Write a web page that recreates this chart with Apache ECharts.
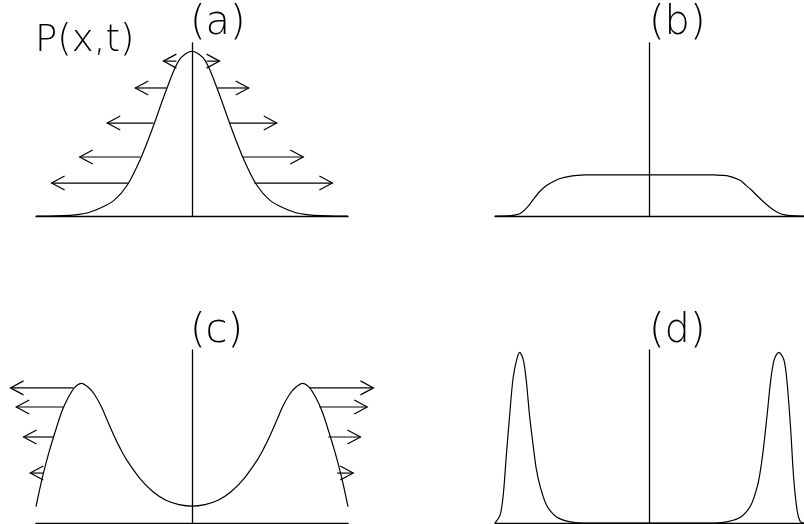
<!DOCTYPE html>
<html>
	<head>
		<meta charset="utf-8">
		<title>P(x,t)</title>
		<style>
			html, body { margin: 0; padding: 0; background: #fff; }
			#main { width: 804px; height: 524px; }
		</style>
	</head>
	<body>
		<div id="main"></div>
		<script src="https://cdn.jsdelivr.net/npm/echarts@6/dist/echarts.min.js"></script>
		<script>
			// 曲线数据 [x, P]
			var curveA = [
				[-3, 0], [-2.75, 0], [-2.5, 0.002], [-2.25, 0.007], [-2, 0.02], [-1.75, 0.05],
				[-1.5, 0.095], [-1.25, 0.185], [-1, 0.34], [-0.75, 0.54], [-0.5, 0.76], [-0.25, 0.945],
				[0, 1.0],
				[0.25, 0.945], [0.5, 0.76], [0.75, 0.54], [1, 0.34], [1.25, 0.185], [1.5, 0.095],
				[1.75, 0.05], [2, 0.02], [2.25, 0.007], [2.5, 0.002], [2.75, 0], [3, 0]
			];
			var curveB = [
				[-3, 0], [-2.75, 0.001], [-2.625, 0.005], [-2.5, 0.017], [-2.375, 0.052], [-2.25, 0.103], [-2.125, 0.15],
				[-2, 0.185], [-1.875, 0.208], [-1.75, 0.226], [-1.5, 0.243], [-1.25, 0.249], [-1, 0.25],
				[0, 0.25],
				[1, 0.25], [1.25, 0.249], [1.5, 0.245], [1.75, 0.218], [1.875, 0.186], [2, 0.152],
				[2.125, 0.112], [2.25, 0.076], [2.375, 0.044], [2.5, 0.02], [2.625, 0.007], [2.75, 0.002], [3, 0]
			];
			var curveC = [
				[-3, 0.1], [-2.875, 0.28], [-2.75, 0.43], [-2.625, 0.56], [-2.5, 0.68], [-2.375, 0.765],
				[-2.25, 0.825], [-2.125, 0.848], [-2, 0.825], [-1.875, 0.78], [-1.75, 0.71], [-1.625, 0.62],
				[-1.5, 0.53], [-1.375, 0.45], [-1.25, 0.38], [-1, 0.27], [-0.75, 0.19], [-0.5, 0.138],
				[-0.25, 0.112], [0, 0.103],
				[0.25, 0.112], [0.5, 0.138], [0.75, 0.19], [1, 0.27], [1.25, 0.38], [1.375, 0.45],
				[1.5, 0.53], [1.625, 0.62], [1.75, 0.71], [1.875, 0.78], [2, 0.825], [2.125, 0.848],
				[2.25, 0.825], [2.375, 0.765], [2.5, 0.68], [2.625, 0.56], [2.75, 0.43], [2.875, 0.28],
				[3, 0.1]
			];
			var curveD = [
				[-3, 0], [-2.9, 0.049], [-2.84, 0.17], [-2.78, 0.41], [-2.71, 0.675], [-2.65, 0.877],
				[-2.58, 0.99], [-2.52, 1.036], [-2.45, 0.99], [-2.39, 0.857], [-2.33, 0.655], [-2.26, 0.473],
				[-2.2, 0.332], [-2.13, 0.23], [-2, 0.109], [-1.81, 0.038], [-1.56, 0.008], [-1.3, 0],
				[0, 0],
				[1.26, 0], [1.52, 0.008], [1.78, 0.038], [1.97, 0.109], [2.1, 0.23], [2.16, 0.332],
				[2.22, 0.473], [2.29, 0.675], [2.35, 0.857], [2.42, 0.99], [2.51, 1.036], [2.61, 0.99],
				[2.67, 0.857], [2.74, 0.575], [2.8, 0.27], [2.87, 0.069], [2.93, 0.008], [3, 0]
			];
			// 箭头 [P, 起点x, 终点x]
			var arrowsA = [
				[0.94, -0.3, -0.55], [0.94, 0.28, 0.53],
				[0.777, -0.49, -1.09], [0.777, 0.49, 1.09],
				[0.564, -0.74, -1.63], [0.564, 0.72, 1.63],
				[0.358, -0.99, -2.16], [0.358, 0.97, 2.14],
				[0.2, -1.22, -2.7], [0.2, 1.2, 2.7]
			];
			var arrowsC = [
				[0.82, -2.28, -3.49], [0.82, 2.26, 3.49],
				[0.704, -2.47, -3.38], [0.704, 2.45, 3.37],
				[0.522, -2.66, -3.24], [0.522, 2.62, 3.24],
				[0.303, -2.86, -3.11], [0.303, 2.79, 3.1]
			];
			var panelLabels = ['(a)', '(b)', '(c)', '(d)'];
			var yLabel = 'P(x,t)';

			var chart = echarts.init(document.getElementById('main'));

			var grids = [
				{ left: 36, top: 43, width: 312, height: 173 },
				{ left: 495, top: 43, width: 312, height: 173 },
				{ left: 36, top: 350, width: 312, height: 173 },
				{ left: 495, top: 350, width: 312, height: 173 }
			];
			var labelPos = [[190, 24], [649, 24], [190, 332], [649, 332]];
			var font = '"DejaVu Sans", sans-serif';

			// 画开口箭头
			function arrowItem(params, api) {
				var y = api.value(0);
				var p0 = api.coord([api.value(1), y]);
				var p1 = api.coord([api.value(2), y]);
				var dir = p1[0] > p0[0] ? 1 : -1;
				var hl = 13, hw = 7;
				var st = { stroke: '#000', lineWidth: 1.2, fill: null };
				return {
					type: 'group',
					children: [{
						type: 'line',
						shape: { x1: p0[0], y1: p0[1], x2: p1[0], y2: p1[1] },
						style: st
					}, {
						type: 'polyline',
						shape: { points: [[p1[0] - dir * hl, p1[1] - hw], [p1[0], p1[1]], [p1[0] - dir * hl, p1[1] + hw]] },
						style: st
					}]
				};
			}

			var axisCommon = {
				type: 'value',
				axisLine: { show: true, onZero: true, lineStyle: { color: '#000', width: 1.3 } },
				axisTick: { show: false },
				axisLabel: { show: false },
				splitLine: { show: false }
			};

			var xAxis = [], yAxis = [];
			grids.forEach(function(g, i) {
				xAxis.push(Object.assign({ gridIndex: i, min: -3, max: 3 }, axisCommon));
				yAxis.push(Object.assign({ gridIndex: i, min: 0, max: 1.05 }, axisCommon));
			});

			var curves = [curveA, curveB, curveC, curveD];
			var series = curves.map(function(c, i) {
				return {
					type: 'line',
					xAxisIndex: i,
					yAxisIndex: i,
					data: c,
					showSymbol: false,
					smooth: 0.3,
					silent: true,
					lineStyle: { color: '#000', width: 1.2 }
				};
			});
			series.push({ type: 'custom', xAxisIndex: 0, yAxisIndex: 0, data: arrowsA, renderItem: arrowItem, silent: true });
			series.push({ type: 'custom', xAxisIndex: 2, yAxisIndex: 2, data: arrowsC, renderItem: arrowItem, silent: true });

			var graphic = panelLabels.map(function(t, i) {
				return {
					type: 'text',
					x: labelPos[i][0],
					y: labelPos[i][1],
					style: { text: t, fontSize: 40, fontFamily: font, fontWeight: 200, fill: '#000', verticalAlign: 'middle' }
				};
			});
			graphic.push({
				type: 'text',
				x: 35,
				y: 41,
				style: { text: yLabel, fontSize: 37, fontFamily: font, fontWeight: 200, fill: '#000', verticalAlign: 'middle' }
			});

			chart.setOption({
				backgroundColor: '#fff',
				animation: false,
				grid: grids,
				xAxis: xAxis,
				yAxis: yAxis,
				series: series,
				graphic: graphic
			});
		</script>
	</body>
</html>
